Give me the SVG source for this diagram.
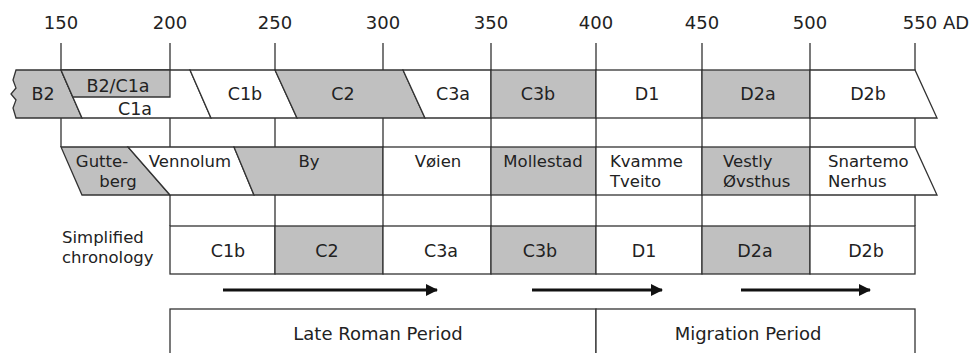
<svg xmlns="http://www.w3.org/2000/svg" width="972" height="353" viewBox="0 0 972 353">
<style>
text{font-family:"DejaVu Sans","Noto Sans",sans-serif;fill:#222;}
.t{font-size:18px;text-anchor:middle;}
.c{font-size:17.5px;text-anchor:middle;}
.s{font-size:16.5px;}
.sm{font-size:16.5px;text-anchor:middle;}
.p{font-size:18px;text-anchor:middle;}
.g{fill:#c0c0c0;stroke:#333;stroke-width:1.3;}
.w{fill:#fff;stroke:#333;stroke-width:1.3;}
.l{stroke:#333;stroke-width:1.3;fill:none;}
.a{stroke:#111;stroke-width:3;fill:none;}
</style>
<defs>
<marker id="ah" viewBox="0 0 12 12" refX="11" refY="6" markerWidth="12" markerHeight="12" markerUnits="userSpaceOnUse" orient="auto">
<path d="M0,0 L12,6 L0,12 Z" fill="#111"/>
</marker>
</defs>
<rect width="972" height="353" fill="#fff"/>

<g id="axis">
<text class="t" x="61" y="29">150</text>
<text class="t" x="170" y="29">200</text>
<text class="t" x="275" y="29">250</text>
<text class="t" x="383" y="29">300</text>
<text class="t" x="491" y="29">350</text>
<text class="t" x="596" y="29">400</text>
<text class="t" x="702" y="29">450</text>
<text class="t" x="810" y="29">500</text>
<text class="t" x="936" y="29">550 AD</text>
<path class="l" d="M61,43V70M170,43V70M275,43V70M383,43V70M491,43V70M596,43V70M702,43V70M810,43V70M915,43V70"/>
</g>

<g id="row1">
<g id="B2"><path class="g" d="M16,70 L61,70 L82,118 L16,118 L13,108 L16,100 L11,94 L16,88 L13,80 Z"/><text class="c" x="43" y="100">B2</text></g>
<g id="C1a"><path class="w" d="M61,70 L190,70 L211,118 L82,118 Z"/><text class="c" x="135" y="115">C1a</text></g>
<g id="B2C1a"><path class="g" d="M61,70 L170,70 L170,97 L72.8,97 Z"/><text class="c" x="118" y="92">B2/C1a</text></g>
<g id="C1b"><path class="w" d="M190,70 L275,70 L297,118 L211,118 Z"/><text class="c" x="245" y="100">C1b</text></g>
<g id="C2"><path class="g" d="M275,70 L403,70 L425,118 L297,118 Z"/><text class="c" x="343" y="100">C2</text></g>
<g id="C3a"><path class="w" d="M403,70 L491,70 L491,118 L425,118 Z"/><text class="c" x="453" y="100">C3a</text></g>
<g id="C3b"><rect class="g" x="491" y="70" width="105" height="48"/><text class="c" x="538" y="100">C3b</text></g>
<g id="D1"><rect class="w" x="596" y="70" width="106" height="48"/><text class="c" x="647" y="100">D1</text></g>
<g id="D2a"><rect class="g" x="702" y="70" width="108" height="48"/><text class="c" x="758" y="100">D2a</text></g>
<g id="D2b"><path class="w" d="M810,70 L915,70 L937,118 L810,118 Z"/><text class="c" x="868" y="100">D2b</text></g>
</g>

<g id="spacer1">
<path class="l" d="M61,118V147M170,118V147M275,118V147M383,118V147M491,118V147M596,118V147M702,118V147M810,118V147M915,118V147"/>
</g>

<g id="row2">
<g id="Gutteberg"><path class="g" d="M61,147 L128,147 L170,195 L82,195 Z"/><text class="sm" x="102" y="167">Gutte-</text><text class="sm" x="118" y="187">berg</text></g>
<g id="Vennolum"><path class="w" d="M128,147 L234,147 L254,195 L170,195 Z"/><text class="sm" x="190" y="167">Vennolum</text></g>
<g id="By"><path class="g" d="M234,147 L383,147 L383,195 L254,195 Z"/><text class="sm" x="309" y="167">By</text></g>
<g id="Voien"><rect class="w" x="383" y="147" width="108" height="48"/><text class="sm" x="438" y="167">Vøien</text></g>
<g id="Mollestad"><rect class="g" x="491" y="147" width="105" height="48"/><text class="sm" x="543" y="167">Mollestad</text></g>
<g id="Kvamme"><rect class="w" x="596" y="147" width="106" height="48"/><text class="s" x="610" y="167">Kvamme</text><text class="s" x="610" y="187">Tveito</text></g>
<g id="Vestly"><rect class="g" x="702" y="147" width="108" height="48"/><text class="s" x="723" y="167">Vestly</text><text class="s" x="723" y="187">Øvsthus</text></g>
<g id="Snartemo"><path class="w" d="M810,147 L915,147 L937,195 L810,195 Z"/><text class="s" x="828" y="167">Snartemo</text><text class="s" x="828" y="187">Nerhus</text></g>
</g>

<g id="spacer2">
<path class="l" d="M170,195V226M275,195V226M383,195V226M491,195V226M596,195V226M702,195V226M810,195V226M915,195V226"/>
</g>

<g id="row4">
<g id="label"><text class="s" x="62" y="243">Simplified</text><text class="s" x="62" y="263">chronology</text></g>
<g id="sC1b"><rect class="w" x="170" y="226" width="105" height="48"/><text class="c" x="228" y="257">C1b</text></g>
<g id="sC2"><rect class="g" x="275" y="226" width="108" height="48"/><text class="c" x="327" y="257">C2</text></g>
<g id="sC3a"><rect class="w" x="383" y="226" width="108" height="48"/><text class="c" x="441" y="257">C3a</text></g>
<g id="sC3b"><rect class="g" x="491" y="226" width="105" height="48"/><text class="c" x="540" y="257">C3b</text></g>
<g id="sD1"><rect class="w" x="596" y="226" width="106" height="48"/><text class="c" x="644" y="257">D1</text></g>
<g id="sD2a"><rect class="g" x="702" y="226" width="108" height="48"/><text class="c" x="755" y="257">D2a</text></g>
<g id="sD2b"><rect class="w" x="810" y="226" width="105" height="48"/><text class="c" x="866" y="257">D2b</text></g>
</g>

<g id="connectors">
<line class="a" x1="223" y1="290" x2="437" y2="290" marker-end="url(#ah)"/>
<line class="a" x1="532" y1="290" x2="662" y2="290" marker-end="url(#ah)"/>
<line class="a" x1="741" y1="290" x2="870" y2="290" marker-end="url(#ah)"/>
</g>

<g id="periods">
<g id="LateRoman"><rect class="w" x="170" y="309" width="426" height="60"/><text class="p" x="378" y="340">Late Roman Period</text></g>
<g id="Migration"><rect class="w" x="596" y="309" width="319" height="60"/><text class="p" x="748" y="340">Migration Period</text></g>
</g>
</svg>
